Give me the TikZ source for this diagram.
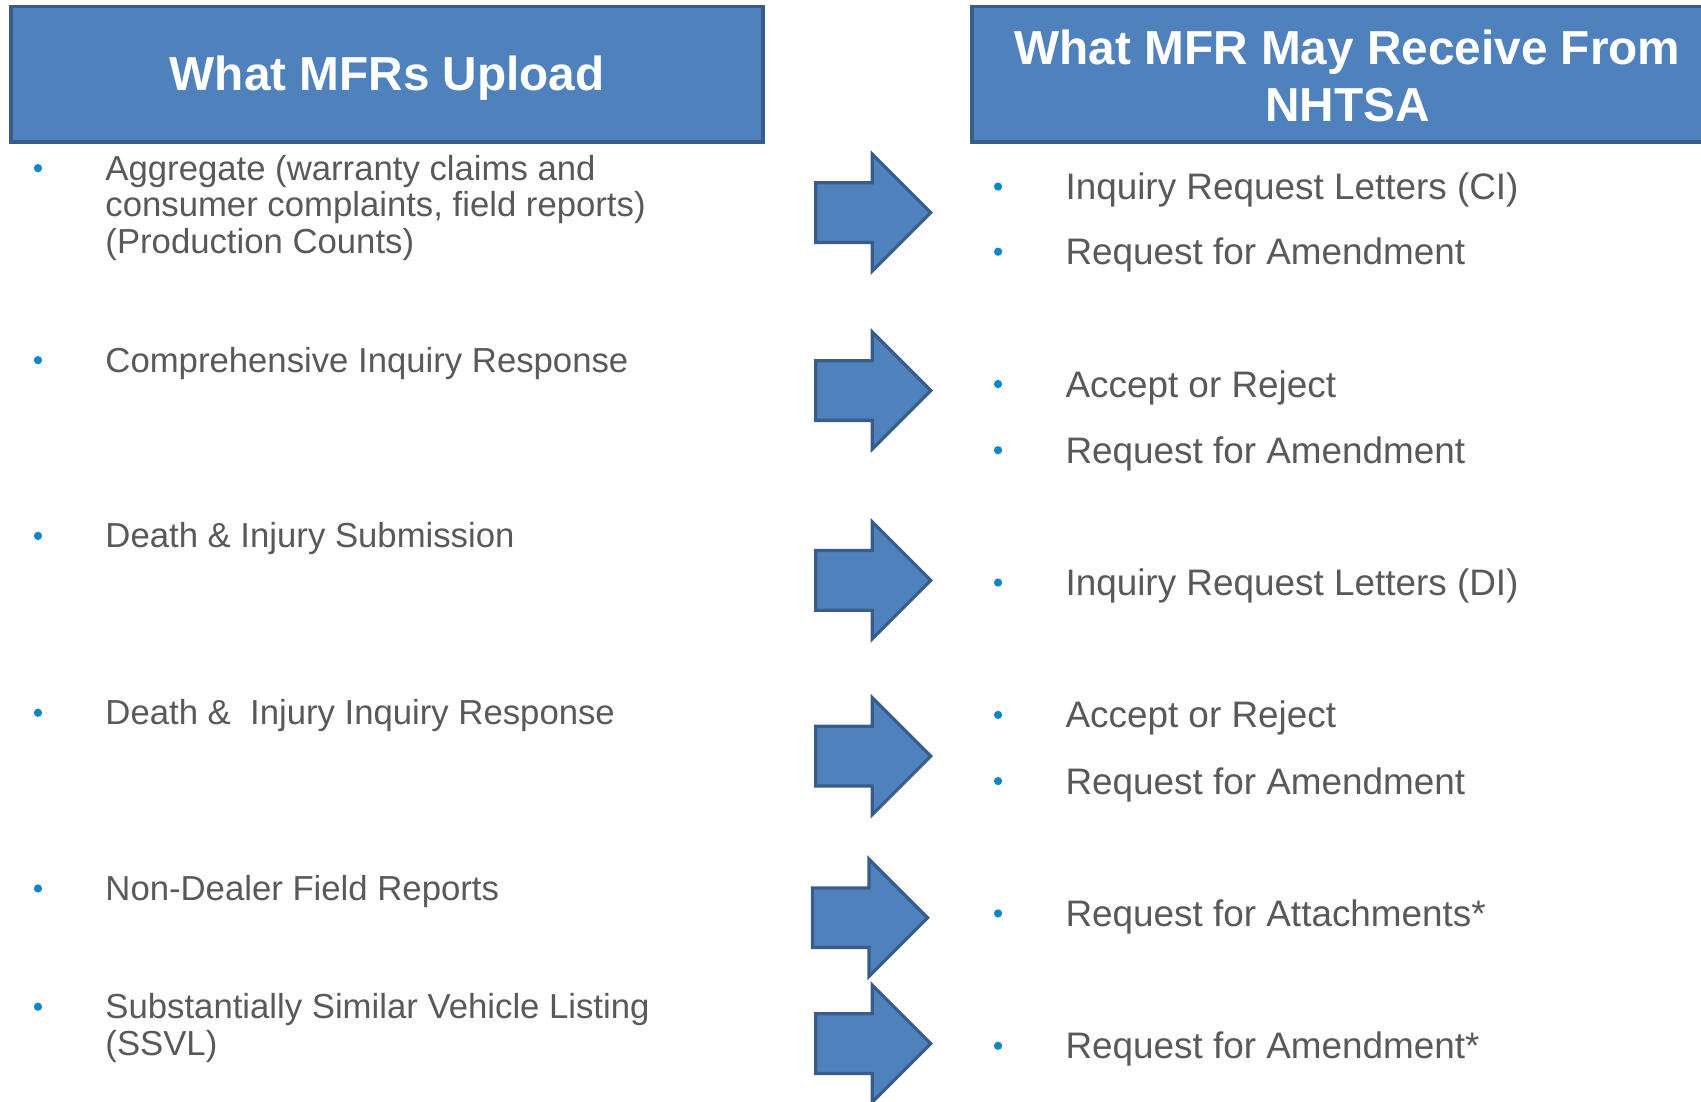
\documentclass[tikz,border=0pt]{standalone}
\usepackage{fontspec}
\setmainfont{Liberation Sans}
\definecolor{hdrblue}{HTML}{4F81BD}
\definecolor{hdredge}{HTML}{385D8A}
\definecolor{bodygray}{HTML}{595959}
\definecolor{dotblue}{HTML}{0F86C6}

\begin{document}
\begin{tikzpicture}[x=1pt, y=-1pt,
  header/.style={draw=hdredge, line width=3.5pt, fill=hdrblue},
  headtext/.style={text=white, font=\fontsize{44}{53}\selectfont\bfseries, align=center},
  lefttext/.style={anchor=base west, inner sep=0pt, text=bodygray, font=\fontsize{32}{34}\selectfont, align=left},
  righttext/.style={anchor=base west, inner sep=0pt, text=bodygray, font=\fontsize{34}{40}\selectfont},
  bigarrow/.style={draw=hdredge, line width=3pt, fill=hdrblue, line join=miter}]
\useasboundingbox (0,0) rectangle (1568,1015);
% headers
\draw[header] (10,6) rectangle (703,131);
\node[headtext] (upload) at (357,72) {What MFRs Upload};
\draw[header] (896,6) rectangle (1600,131);
\node[headtext] (receive) at (1242,70) {What MFR May Receive From\\NHTSA};
% what is uploaded (\l = last line of the item)
\foreach \y/\l/\txt [count=\i] in {155/223/{Aggregate (warranty claims and\\consumer complaints, field reports)\\(Production Counts)},
    332/332/{Comprehensive Inquiry Response},
    494/494/{Death \& Injury Submission},
    657/657/{Death \&\ \ Injury Inquiry Response},
    819/819/{Non-Dealer Field Reports},
    928/962/{Substantially Similar Vehicle Listing\\(SSVL)}}{
  \fill[dotblue] (35,\y) circle (3.8);
  \node[lefttext] (up\i) at (97,\l+11) {\txt};
}
% what comes back
\foreach \y/\txt [count=\i] in {172/{Inquiry Request Letters (CI)},
    232/{Request for Amendment},
    354/{Accept or Reject},
    415/{Request for Amendment},
    537/{Inquiry Request Letters (DI)},
    659/{Accept or Reject},
    720/{Request for Amendment},
    842/{Request for Attachments*},
    964/{Request for Amendment*}}{
  \fill[dotblue] (920,\y) circle (3.8);
  \node[righttext] (back\i) at (982,\y+12) {\txt};
}
% block arrows
\foreach \x/\y in {752/196, 752/360, 752/535, 752/697, 749/846, 752/962}
  \draw[bigarrow] (\x,\y-27.5) -- (\x+52,\y-27.5) -- (\x+52,\y-54) -- (\x+106,\y)
    -- (\x+52,\y+54) -- (\x+52,\y+27.5) -- (\x,\y+27.5) -- cycle;
\end{tikzpicture}
\end{document}
